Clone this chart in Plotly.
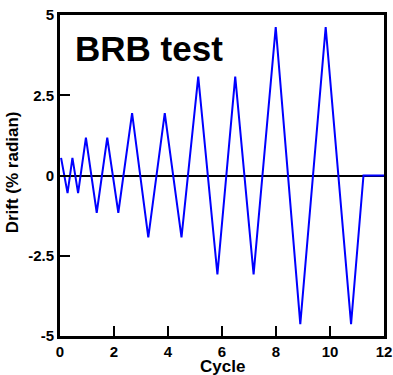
import plotly.graph_objects as go

cycle = [0.04, 0.28, 0.46, 0.67, 0.96, 1.36, 1.75, 2.16, 2.67, 3.27, 3.88, 4.50,
         5.12, 5.83, 6.49, 7.17, 7.99, 8.90, 9.84, 10.78, 11.24, 12.0]
drift = [0.55, -0.55, 0.55, -0.55, 1.18, -1.16, 1.18, -1.16, 1.94, -1.93, 1.94, -1.93,
         3.08, -3.08, 3.08, -3.08, 4.62, -4.63, 4.62, -4.63, 0.0, 0.0]

x_ticks = [0, 2, 4, 6, 8, 10, 12]
y_ticks = [-5, -2.5, 0, 2.5, 5]
y_labels = ["-5", "-2.5", "0", "2.5", "5"]

font_family = "Liberation Sans, Arial, sans-serif"

fig = go.Figure()
fig.add_trace(go.Scatter(x=cycle, y=drift, mode="lines",
                         line=dict(color="#0000ff", width=2), showlegend=False))

fig.update_layout(
    width=393, height=375,
    margin=dict(l=60, r=9, t=15, b=39),
    paper_bgcolor="white", plot_bgcolor="white",
    font=dict(family=font_family, color="black"),
    xaxis=dict(range=[0, 12], tickvals=x_ticks, ticks="inside", ticklen=10,
               tickwidth=1.5, tickcolor="black", showgrid=False, zeroline=False,
               showline=True, linecolor="black", linewidth=3, mirror=True,
               automargin=False,
               tickfont=dict(size=15, family=font_family, weight="bold")),
    yaxis=dict(range=[-5, 5], tickvals=y_ticks, ticktext=y_labels, ticks="inside",
               ticklen=10, tickwidth=1.5, tickcolor="black", showgrid=False,
               zeroline=True, zerolinecolor="black", zerolinewidth=1.5,
               showline=True, linecolor="black", linewidth=3, mirror=True,
               automargin=False,
               tickfont=dict(size=15, family=font_family, weight="bold")),
    annotations=[
        dict(text="<b>BRB test</b>", xref="paper", yref="paper", x=0.04, y=0.895,
             xanchor="left", yanchor="middle", showarrow=False,
             font=dict(size=35, family=font_family, color="black")),
        dict(text="<b>Cycle</b>", xref="paper", yref="paper", x=0.5, y=-0.095,
             xanchor="center", yanchor="middle", showarrow=False,
             font=dict(size=17, family=font_family, color="black")),
        dict(text="<b>Drift (% radian)</b>", xref="paper", yref="paper", x=-0.148, y=0.51,
             xanchor="center", yanchor="middle", showarrow=False, textangle=-90,
             font=dict(size=17, family=font_family, color="black")),
    ],
)

fig.write_html("out.html")
